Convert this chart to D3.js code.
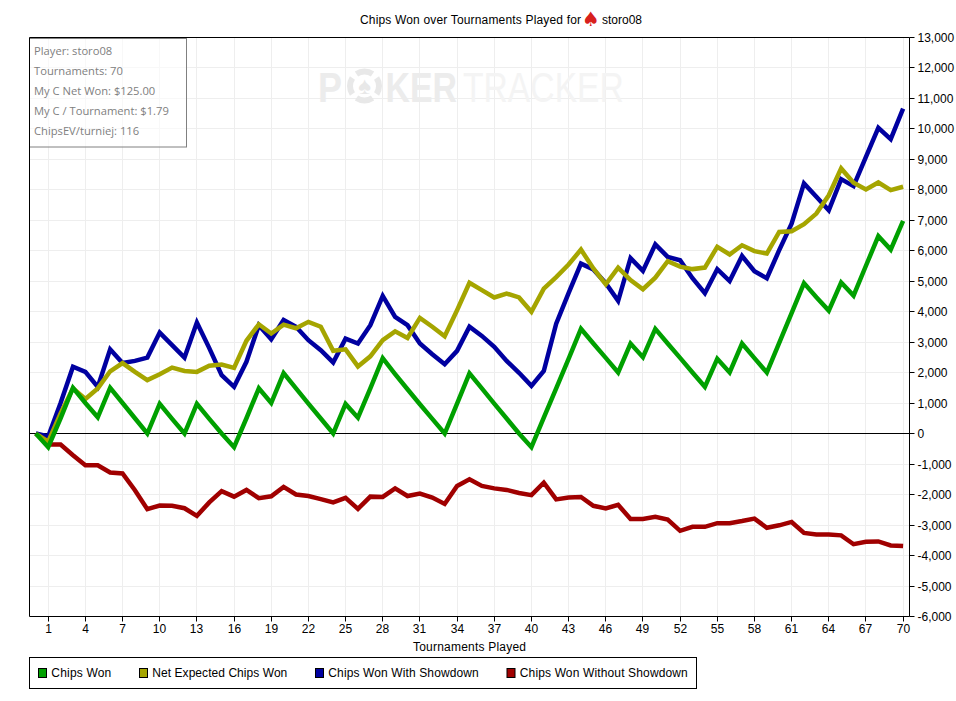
<!DOCTYPE html>
<html><head><meta charset="utf-8">
<script src="https://cdn.jsdelivr.net/npm/d3@7"></script>
<style>
html,body{margin:0;padding:0;background:#fff;}
svg{display:block;}
text{font-family:"Liberation Sans",Arial,sans-serif;}
</style></head><body>
<svg id="c" width="956" height="701"></svg>
<script>
const tournaments = d3.range(0, 71);
const chipsWon = [0,-450,500,1500,1000,530,1500,1000,500,0,970,480,0,970,480,0,-450,500,1480,1000,1980,1480,980,490,0,970,520,1480,2470,1950,1450,960,480,0,980,1970,1480,980,490,0,-450,520,1480,2450,3430,2950,2480,2000,2950,2500,3430,2950,2480,2000,1530,2450,2000,2950,2470,2000,2970,3950,4930,4470,4030,4950,4520,5500,6470,6030,6970];
const netExpected = [0,-270,660,1480,1130,1480,2040,2310,2020,1750,1940,2160,2050,2020,2220,2260,2150,3040,3580,3280,3570,3450,3660,3500,2710,2760,2200,2530,3060,3350,3130,3790,3500,3190,4040,4940,4700,4460,4590,4460,3990,4750,5130,5540,6030,5410,4890,5440,5030,4730,5110,5650,5470,5390,5440,6120,5870,6170,5980,5900,6610,6630,6860,7210,7810,8690,8220,8000,8230,7980,8090];
const withShowdown = [0,-100,1000,2190,2020,1530,2760,2310,2380,2490,3310,2900,2490,3640,2800,1910,1530,2350,3550,3090,3720,3500,3060,2730,2330,3110,2950,3550,4510,3820,3550,2950,2600,2270,2710,3500,3200,2840,2380,1990,1560,2050,3600,4600,5570,5380,4930,4350,5750,5330,6200,5790,5680,5090,4600,5390,5000,5820,5320,5090,6010,6880,8200,7760,7320,8340,8110,9070,10020,9650,10650];
const withoutShowdown = [0,-360,-360,-710,-1040,-1040,-1280,-1310,-1860,-2480,-2360,-2370,-2450,-2700,-2260,-1890,-2070,-1850,-2120,-2060,-1750,-2000,-2050,-2150,-2260,-2110,-2470,-2070,-2080,-1800,-2050,-1970,-2100,-2310,-1720,-1500,-1720,-1800,-1850,-1950,-2020,-1610,-2160,-2100,-2080,-2370,-2460,-2340,-2800,-2800,-2730,-2820,-3190,-3060,-3060,-2940,-2940,-2870,-2790,-3090,-3010,-2900,-3260,-3310,-3310,-3340,-3630,-3550,-3540,-3670,-3690];
const xTicks = [1,4,7,10,13,16,19,22,25,28,31,34,37,40,43,46,49,52,55,58,61,64,67,70];
const yTicks = [13000,12000,11000,10000,9000,8000,7000,6000,5000,4000,3000,2000,1000,0,-1000,-2000,-3000,-4000,-5000,-6000];
const seriesNames = ["Chips Won","Net Expected Chips Won","Chips Won With Showdown","Chips Won Without Showdown"];
const seriesColors = ["#00a000","#a5a500","#0000a0","#a00000"];
const seriesValues = [chipsWon,netExpected,withShowdown,withoutShowdown];
const infoLines = ["Player: storo08","Tournaments: 70","My C Net Won: $125.00","My C / Tournament: $1.79","ChipsEV/turniej: 116"];

const L=29.5,R=909.5,T=37.5,B=616.5;
const svg=d3.select("#c");
const x=d3.scaleLinear().domain([0,70]).range([35.81,903.11]);
const y=d3.scaleLinear().domain([-6000,13000]).range([616.5,37]);
const snap=v=>Math.floor(v)+.5;
const fmt=v=>d3.format(",")(v).replace("\u2212","-");

// grid
const grid=svg.append("g").attr("stroke","#eeeeee").attr("stroke-width",1);
grid.selectAll(".gx").data(xTicks).join("line").attr("x1",d=>snap(x(d))).attr("x2",d=>snap(x(d))).attr("y1",T).attr("y2",B);
grid.selectAll(".gy").data(yTicks).join("line").attr("x1",L).attr("x2",R).attr("y1",d=>snap(y(d))).attr("y2",d=>snap(y(d)));

// watermark
const wm=svg.append("g").attr("font-size",42).attr("text-anchor","start");
wm.append("text").attr("transform","translate(318,102) scale(.857,1)").attr("font-weight","bold").attr("fill","#ececec").text("P");
wm.append("circle").attr("cx",364.5).attr("cy",86).attr("r",14.5).attr("fill","none").attr("stroke","#e8e8e8").attr("stroke-width",6).attr("pathLength",64).attr("stroke-dasharray","12 4").attr("stroke-dashoffset",6);
wm.append("text").attr("x",364.5).attr("y",94).attr("text-anchor","middle").attr("font-size",24).attr("fill","#e8e8e8").text("\u2660");
wm.append("text").attr("transform","translate(385.5,102) scale(.806,1)").attr("font-weight","bold").attr("fill","#ececec").text("KER");
wm.append("text").attr("transform","translate(463,102) scale(.802,1)").attr("fill","#f4f4f4").text("TRACKER");

// zero line
svg.append("line").attr("x1",L).attr("x2",R).attr("y1",snap(y(0))).attr("y2",snap(y(0))).attr("stroke","#000");

// series
const line=d3.line().x((d,i)=>x(tournaments[i])).y(d=>y(d));
[3,2,1,0].forEach(k=>{
  svg.append("path").datum(seriesValues[k]).attr("d",line).attr("fill","none")
    .attr("stroke",seriesColors[k]).attr("stroke-width",4.5).attr("stroke-linejoin","miter");
});

// info box
svg.append("rect").attr("x",L).attr("y",38.5).attr("width",157).attr("height",108.5).attr("fill","#fff").attr("fill-opacity",.6).attr("stroke","#808080");
svg.append("g").selectAll("text").data(infoLines).join("text").attr("x",34).attr("y",(d,i)=>55+i*20)
  .style("font-family","'Open Sans'").attr("font-size",11.2).attr("fill","#808080").text(d=>d);

// axes
const frame=svg.append("g").attr("fill","none").attr("stroke","#000");
frame.append("line").attr("x1",L).attr("x2",L).attr("y1",T).attr("y2",B);
frame.append("line").attr("x1",L).attr("x2",R).attr("y1",T).attr("y2",T);

const ax=svg.append("g").attr("transform",`translate(0,${B})`).call(d3.axisBottom(x).tickValues(xTicks).tickFormat(d=>d).tickSize(5).tickPadding(3));
const ay=svg.append("g").attr("transform",`translate(${R},0)`).call(d3.axisRight(y).tickValues(yTicks).tickFormat(fmt).tickSize(5).tickPadding(3));
ax.selectAll(".tick").attr("transform",d=>`translate(${snap(x(d))},0)`);
ay.selectAll(".tick").attr("transform",d=>`translate(0,${snap(y(d))})`);
ax.selectAll(".tick line").attr("x1",0).attr("x2",0);
ay.selectAll(".tick line").attr("y1",0).attr("y2",0);
ay.selectAll(".tick text").attr("y",.7);
[ax,ay].forEach(a=>{a.selectAll("text").attr("font-size",12).style("font-family","'Liberation Sans'").attr("fill","#000");a.select(".domain").attr("stroke","#000");});
ax.select(".domain").attr("d",`M${L},0H${R}`);
ay.select(".domain").attr("d",`M0,${T}V${B}`);

// titles
svg.append("text").attr("x",360).attr("y",24).attr("font-size",12).attr("fill","#000").attr("textLength",221).text("Chips Won over Tournaments Played for");
svg.append("text").attr("x",591).attr("y",26).attr("font-size",20).attr("text-anchor","middle").attr("fill","#d8201c").style("font-family","'DejaVu Sans'").text("\u2660");
svg.append("text").attr("x",602).attr("y",24).attr("font-size",12).attr("fill","#000").text("storo08");
svg.append("text").attr("x",413).attr("y",651).attr("font-size",12).attr("fill","#000").attr("textLength",113).text("Tournaments Played");

// legend
svg.append("rect").attr("x",L).attr("y",657.5).attr("width",667).attr("height",31).attr("fill","#fff").attr("stroke","#000");
const legX=[38,139,315,506.5];
const legTextW=[60,135,150.5,168];
const lg=svg.append("g").selectAll("g").data(seriesNames).join("g").attr("transform",(d,i)=>`translate(${legX[i]},0)`);
lg.append("rect").attr("x",.5).attr("y",668.5).attr("width",8).attr("height",9).attr("fill",(d,i)=>seriesColors[i]).attr("stroke","#000");
lg.append("text").attr("x",13.3).attr("y",677).attr("font-size",12).attr("fill","#000").attr("textLength",(d,i)=>legTextW[i]).text(d=>d);
</script>
</body></html>
